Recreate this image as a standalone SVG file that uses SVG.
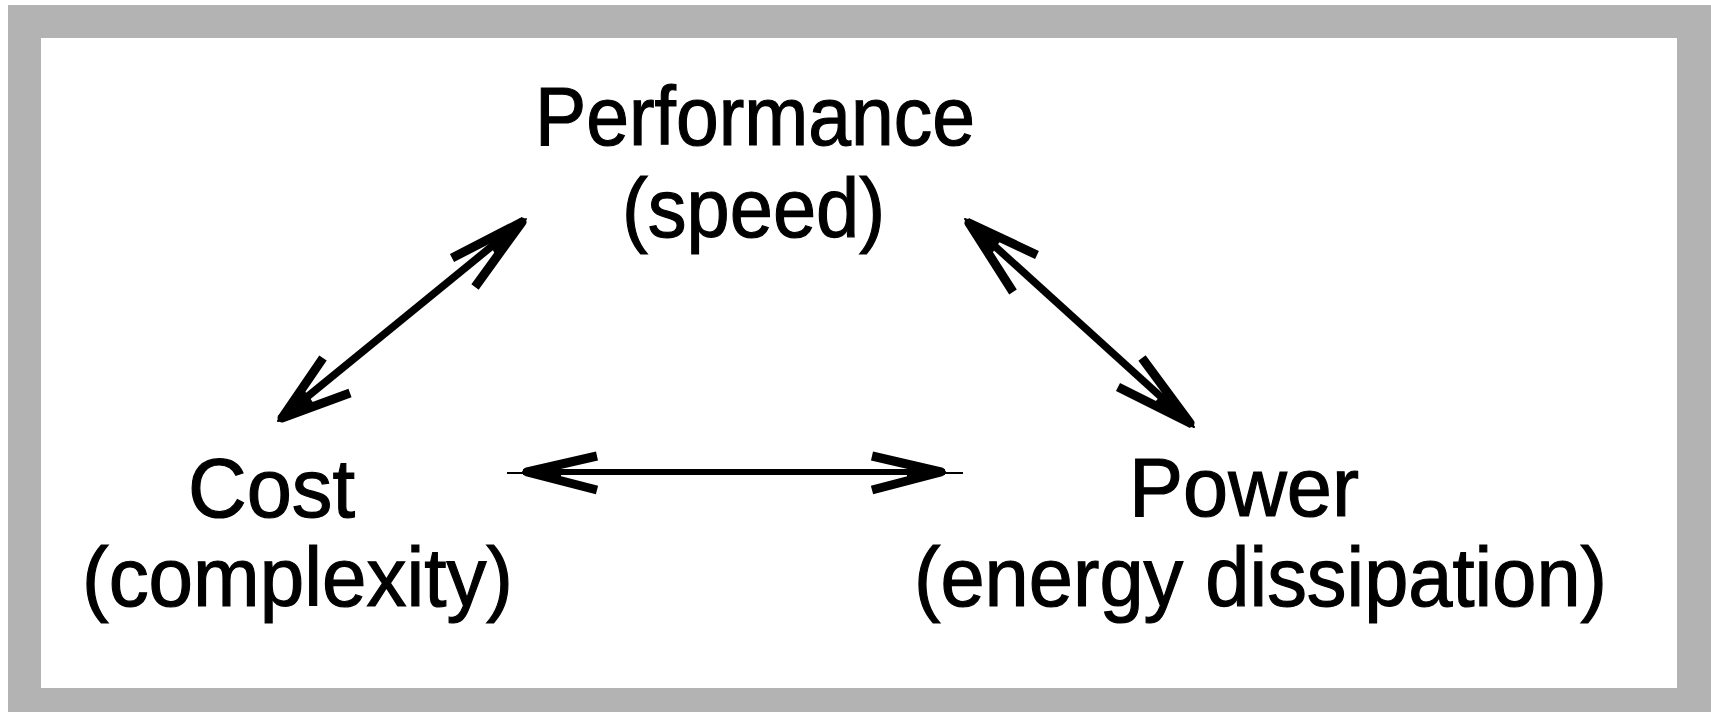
<svg xmlns="http://www.w3.org/2000/svg" width="1711" height="712" viewBox="0 0 1711 712">
<style>
.t{font-family:"Liberation Sans",Arial,sans-serif;font-size:84px;fill:#000;stroke:#000;stroke-width:1.2}
.shaft{stroke:#000;stroke-width:6;fill:none}
.dshaft{stroke:#000;stroke-width:7.5;fill:none}
.thin{stroke:#000;stroke-width:2;fill:none}
.head{stroke:#000;stroke-width:9;fill:none;stroke-linejoin:round;stroke-linecap:butt}
.wedge{fill:#000;stroke:#000;stroke-width:2;stroke-linejoin:round}
</style>
<rect x="0" y="0" width="1711" height="712" fill="#fff"/>
<rect x="8" y="5" width="1703" height="707" fill="#b3b3b3"/>
<rect x="41" y="38" width="1636" height="650" fill="#fff"/>
<g id="performance">
<text class="t" x="535" y="145" textLength="440" lengthAdjust="spacingAndGlyphs">Performance</text>
<text class="t" x="622" y="237" textLength="263" lengthAdjust="spacingAndGlyphs">(speed)</text>
</g>
<g id="cost">
<text class="t" x="188" y="517" textLength="167" lengthAdjust="spacingAndGlyphs">Cost</text>
<text class="t" x="82" y="606" textLength="431" lengthAdjust="spacingAndGlyphs">(complexity)</text>
</g>
<g id="power">
<text class="t" x="1129" y="516" textLength="230" lengthAdjust="spacingAndGlyphs">Power</text>
<text class="t" x="914" y="606" textLength="693" lengthAdjust="spacingAndGlyphs">(energy dissipation)</text>
</g>
<g id="connectors">
<!-- Cost <-> Performance -->
<line class="dshaft" x1="280" y1="419" x2="524" y2="220"/>
<polyline class="head" points="452,258 522,222 475,287"/>
<polygon class="wedge" points="526,219 489,240 497,256"/>
<polyline class="head" points="323,358 282,418 350,393"/>
<polygon class="wedge" points="278,421 303,390 313,404"/>
<!-- Performance <-> Power -->
<line class="dshaft" x1="967" y1="221" x2="1192" y2="425"/>
<polyline class="head" points="1037,255 969,223 1013,292"/>
<polygon class="wedge" points="965,219 1001,238 990,255"/>
<polyline class="head" points="1142,358 1190,423 1118,387"/>
<polygon class="wedge" points="1194,427 1165,392 1153,406"/>
<!-- Cost <-> Power -->
<line class="thin" x1="507" y1="473" x2="963" y2="473"/>
<line class="shaft" x1="523" y1="472" x2="945" y2="472"/>
<polyline class="head" points="597,456 527,472 597,490"/>
<polygon class="wedge" points="523,472 560,463 560,482"/>
<polyline class="head" points="872,456 941,472 872,490"/>
<polygon class="wedge" points="945,472 908,463 908,482"/>
</g>
</svg>
